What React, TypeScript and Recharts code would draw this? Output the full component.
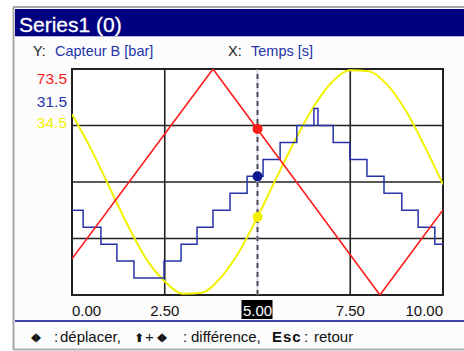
import React from "react";
import {
  ComposedChart,
  Line,
  XAxis,
  YAxis,
  ReferenceLine,
  ReferenceArea,
  ReferenceDot,
} from "recharts";

// ---- data ----
const xTicks = [0, 2.5, 5, 7.5, 10];
const xTickLabels = ["0.00", "2.50", "5.00", "7.50", "10.00"];
const gridX = [2.5, 7.5];
const gridY = [25, 50, 75];

const redData = [
  { x: 0, v: 16 },
  { x: 3.8, v: 100 },
  { x: 8.3, v: 0 },
  { x: 10, v: 37.6 },
];

const yellowData = [
  { x: 0, v: 80 },
  { x: 0.5, v: 65 },
  { x: 1, v: 48 },
  { x: 1.5, v: 31 },
  { x: 2, v: 16 },
  { x: 2.5, v: 6 },
  { x: 3, v: 0.5 },
  { x: 3.5, v: 1 },
  { x: 4, v: 7.5 },
  { x: 4.5, v: 19 },
  { x: 5, v: 34.5 },
  { x: 5.5, v: 51.5 },
  { x: 6, v: 68 },
  { x: 6.5, v: 83 },
  { x: 7, v: 94 },
  { x: 7.5, v: 99.5 },
  { x: 8, v: 99 },
  { x: 8.5, v: 93 },
  { x: 9, v: 81.5 },
  { x: 9.5, v: 66 },
  { x: 10, v: 49 },
];

const blueData = [
  { x: 0, v: 22.5 },
  { x: 0.3, v: 18 },
  { x: 0.78, v: 13.5 },
  { x: 1.21, v: 9 },
  { x: 1.67, v: 4.5 },
  { x: 2.48, v: 9 },
  { x: 2.94, v: 13.5 },
  { x: 3.37, v: 18 },
  { x: 3.8, v: 22.5 },
  { x: 4.26, v: 27 },
  { x: 4.72, v: 31.5 },
  { x: 5.15, v: 36 },
  { x: 5.61, v: 40.5 },
  { x: 6.06, v: 45 },
  { x: 6.52, v: 49.5 },
  { x: 6.63, v: 45 },
  { x: 7.04, v: 40.5 },
  { x: 7.49, v: 36 },
  { x: 7.95, v: 31.5 },
  { x: 8.41, v: 27 },
  { x: 8.89, v: 22.5 },
  { x: 9.33, v: 18 },
  { x: 9.78, v: 13.5 },
  { x: 10, v: 13.5 },
];

const cursorX = 5;
const cursorRed = 73.5;
const cursorBlue = 31.5;
const cursorYellow = 34.5;

const RED = "#ff1a1a";
const BLUE = "#2433a8";
const BLUE_DOT = "#0c1690";
const YELLOW = "#f2f200";
const NAVY = "#000080";
const FONT = "'Liberation Sans', Arial, sans-serif";
const SYM = "'DejaVu Sans', sans-serif";

const XTick = (props: any) => {
  const { x, y, payload, index } = props;
  const i = xTicks.indexOf(payload.value);
  const label = xTickLabels[i] ?? String(payload.value);
  const anchor = index === 0 ? "start" : index === xTicks.length - 1 ? "end" : "middle";
  const isCursor = payload.value === cursorX;
  return (
    <g>
      {isCursor && <rect x={x - 16} y={y - 3} width={31} height={19} fill="#000" />}
      <text
        x={x}
        y={y + 13}
        textAnchor={anchor}
        fontFamily={FONT}
        fontSize={15}
        fill={isCursor ? "#fff" : "#111"}
      >
        {label}
      </text>
    </g>
  );
};

export default function App() {
  return (
    <div
      style={{
        position: "absolute",
        left: 0,
        top: 0,
        width: 464,
        height: 351,
        background: "#ffffff",
        overflow: "hidden",
      }}
    >
      <svg
        width={464}
        height={351}
        style={{ position: "absolute", left: 0, top: 0 }}
        fontFamily={FONT}
      >
        {/* frame */}
        <rect x={14} y={8} width={452} height={342} fill="#fcfcfc" />
        <line x1={13} y1={7} x2={464} y2={7} stroke="#a8a8a8" strokeWidth={2} />
        <line x1={13.5} y1={7} x2={13.5} y2={350} stroke="#a8a8a8" strokeWidth={2} />
        <line x1={13} y1={349.5} x2={464} y2={349.5} stroke="#b0b0b0" strokeWidth={2} />
        {/* title bar */}
        <rect x={15} y={9} width={449} height={27} fill={NAVY} />
        <line x1={15} y1={36.5} x2={464} y2={36.5} stroke="#b8b8e0" strokeWidth={1} />
        <text x={19} y={32} fill="#ffffff" fontSize={21} stroke="#ffffff" strokeWidth={0.3}>
          Series1 (0)
        </text>
        {/* axis names */}
        <text x={33} y={56} fontSize={14.5} fill="#222">Y:</text>
        <text x={55} y={56} fontSize={14.5} fill={BLUE}>Capteur B [bar]</text>
        <text x={228} y={56} fontSize={14.5} fill="#222">X:</text>
        <text x={251} y={56} fontSize={14.5} fill={BLUE}>Temps [s]</text>
        {/* cursor values */}
        <text x={67} y={84} fontSize={15.5} fill={RED} textAnchor="end">{cursorRed.toFixed(1)}</text>
        <text x={67} y={107} fontSize={15.5} fill={BLUE} textAnchor="end">{cursorBlue.toFixed(1)}</text>
        <text x={67} y={128} fontSize={15.5} fill={YELLOW} textAnchor="end">{cursorYellow.toFixed(1)}</text>
        {/* plot background */}
        <rect x={72} y={69} width={371} height={226} fill="#ffffff" />
        {/* separator */}
        <line x1={15} y1={321} x2={464} y2={321} stroke={NAVY} strokeWidth={1.5} />
        {/* help line */}
        <text y={342} fontSize={15} fill="#111">
          <tspan x={31} y={341} fontSize={12} fontFamily={SYM} textLength={10} lengthAdjust="spacingAndGlyphs">◀▶</tspan>
          <tspan x={54} y={342}>:</tspan>
          <tspan x={60}>déplacer,</tspan>
          <tspan x={134} fontSize={12} fontFamily={SYM} fontWeight="bold">⬆</tspan>
          <tspan x={145}>+</tspan>
          <tspan x={157} y={341} fontSize={12} fontFamily={SYM} textLength={10} lengthAdjust="spacingAndGlyphs">◀▶</tspan>
          <tspan x={183} y={342}>:</tspan>
          <tspan x={191}>différence,</tspan>
          <tspan x={272} fontWeight="bold" letterSpacing={1}>Esc</tspan>
          <tspan x={304}>:</tspan>
          <tspan x={314}>retour</tspan>
        </text>
      </svg>
      <div style={{ position: "absolute", left: 0, top: 0 }}>
        <ComposedChart
          width={464}
          height={351}
          margin={{ top: 69, right: 21, bottom: 26, left: 72 }}
        >
          <XAxis
            dataKey="x"
            type="number"
            domain={[0, 10]}
            ticks={xTicks}
            interval={0}
            axisLine={false}
            tickLine={false}
            height={30}
            tick={<XTick />}
            allowDataOverflow
          />
          <YAxis yAxisId="a" type="number" domain={[0, 100]} hide allowDataOverflow />
          <YAxis yAxisId="b" type="number" domain={[0, 60]} hide allowDataOverflow />
          {gridX.map((gx) => (
            <ReferenceLine key={"gx" + gx} x={gx} yAxisId="a" stroke="#222" strokeWidth={1.6} />
          ))}
          {gridY.map((gy) => (
            <ReferenceLine key={"gy" + gy} y={gy} yAxisId="a" stroke="#222" strokeWidth={1.6} />
          ))}
          <ReferenceArea
            x1={0}
            x2={10}
            y1={0}
            y2={100}
            yAxisId="a"
            fill="none"
            stroke="#222"
            strokeWidth={2}
          />
          <ReferenceLine x={cursorX} yAxisId="a" stroke="#d6d6ee" strokeWidth={2} />
          <ReferenceLine
            x={cursorX}
            yAxisId="a"
            stroke="#505050"
            strokeWidth={2}
            strokeDasharray="5 4"
          />
          <Line
            data={yellowData}
            dataKey="v"
            yAxisId="a"
            type="monotone"
            stroke={YELLOW}
            strokeWidth={2}
            dot={false}
            isAnimationActive={false}
          />
          <Line
            data={blueData}
            dataKey="v"
            yAxisId="b"
            type="stepAfter"
            stroke={BLUE}
            strokeWidth={1.5}
            dot={false}
            isAnimationActive={false}
          />
          <Line
            data={redData}
            dataKey="v"
            yAxisId="a"
            type="linear"
            stroke={RED}
            strokeWidth={1.6}
            dot={false}
            isAnimationActive={false}
          />
          <ReferenceDot x={cursorX} y={cursorRed} yAxisId="a" r={5} fill={RED} stroke="none" />
          <ReferenceDot x={cursorX} y={cursorBlue} yAxisId="b" r={5} fill={BLUE_DOT} stroke="none" />
          <ReferenceDot x={cursorX} y={cursorYellow} yAxisId="a" r={5} fill={YELLOW} stroke="none" />
        </ComposedChart>
      </div>
    </div>
  );
}
